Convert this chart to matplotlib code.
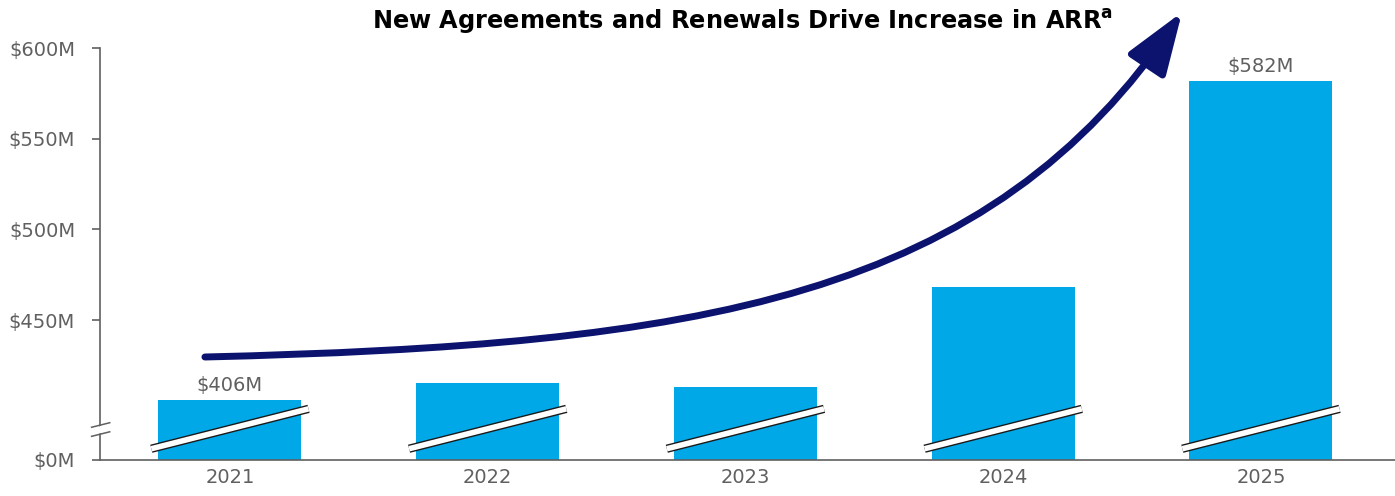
import numpy as np
import matplotlib.pyplot as plt
from matplotlib.patches import FancyArrowPatch
from matplotlib.path import Path

plt.rcParams['font.family'] = ['DejaVu Sans']
plt.rcParams['mathtext.fontset'] = 'custom'
plt.rcParams['mathtext.bf'] = 'DejaVu Sans:bold'

# data (values in $M)
years = ['2021', '2022', '2023', '2024', '2025']
arr = [406, 415, 413, 468, 582]
labels = {0: '$406M', 4: '$582M'}   # only first and last bars are labelled
yticks = [450, 500, 550, 600]

# the axis is broken: the baseline stands in for $0M
BASE = 372.8
TOP = 600

BAR_COLOR = '#00a8e8'
NAVY = '#0c136e'
GREY = '#606060'

fig = plt.figure(figsize=(13.95, 4.96), dpi=100)
ax = fig.add_axes([0.0717, 0.0726, 0.9283, 0.8306])

x = np.arange(len(years))
heights = [v - BASE for v in arr]
ax.bar(x, heights, bottom=BASE, width=0.555, color=BAR_COLOR, zorder=2)

for i, txt in labels.items():
    ax.text(x[i], arr[i] + 2.5, txt, ha='center', va='bottom', fontsize=14,
            color=GREY)

# break marks across each bar
for xi in x:
    xs = [xi - 0.305, xi + 0.305]
    ys = [379.0, 401.0]
    ax.plot(xs, ys, color='#1a1a1a', lw=6.0, solid_capstyle='butt', zorder=3)
    ax.plot(xs, ys, color='white', lw=4.0, solid_capstyle='butt', zorder=4)

ax.set_xlim(-0.504, 4.52)
ax.set_ylim(BASE, TOP)
ax.set_xticks(x)
ax.set_xticklabels(years)
ax.set_yticks([BASE] + yticks)
ax.set_yticklabels(['$0M'] + ['$%dM' % v for v in yticks])

for s in ['top', 'right']:
    ax.spines[s].set_visible(False)
for s in ['left', 'bottom']:
    ax.spines[s].set_color(GREY)
    ax.spines[s].set_linewidth(1.2)
ax.tick_params(axis='y', length=6, width=1.2, color=GREY, labelcolor=GREY,
               labelsize=14, pad=12)
ax.tick_params(axis='x', length=0, labelcolor=GREY, labelsize=14, pad=6)

# break mark on the y axis
trans = ax.get_yaxis_transform()
bx = [-0.0065, 0.0075]
ax.plot(bx, [388.3, 390.8], transform=trans, color='white', lw=5.0,
        clip_on=False, zorder=5, solid_capstyle='butt')
for yc in [387.1, 392.1]:
    ax.plot(bx, [yc - 1.25, yc + 1.25], transform=trans, color=GREY,
            lw=1.1, clip_on=False, zorder=6)

# growth arrow
verts = [(-0.097, 429.6), (1.822, 436.2), (2.946, 461.0), (3.694, 619.8)]
codes = [Path.MOVETO, Path.CURVE4, Path.CURVE4, Path.CURVE4]
arrow = FancyArrowPatch(path=Path(verts, codes),
                        arrowstyle='-|>,head_length=38,head_width=13.5',
                        mutation_scale=1, color=NAVY, lw=5, clip_on=False,
                        zorder=6)
ax.add_patch(arrow)

fig.text(0.532, 0.956,
         r'New Agreements and Renewals Drive Increase in ARR$^{\mathbf{a}}$',
         ha='center', va='center', fontsize=17.3, fontweight='bold',
         color='black')

fig.savefig('out.png', dpi=100)
